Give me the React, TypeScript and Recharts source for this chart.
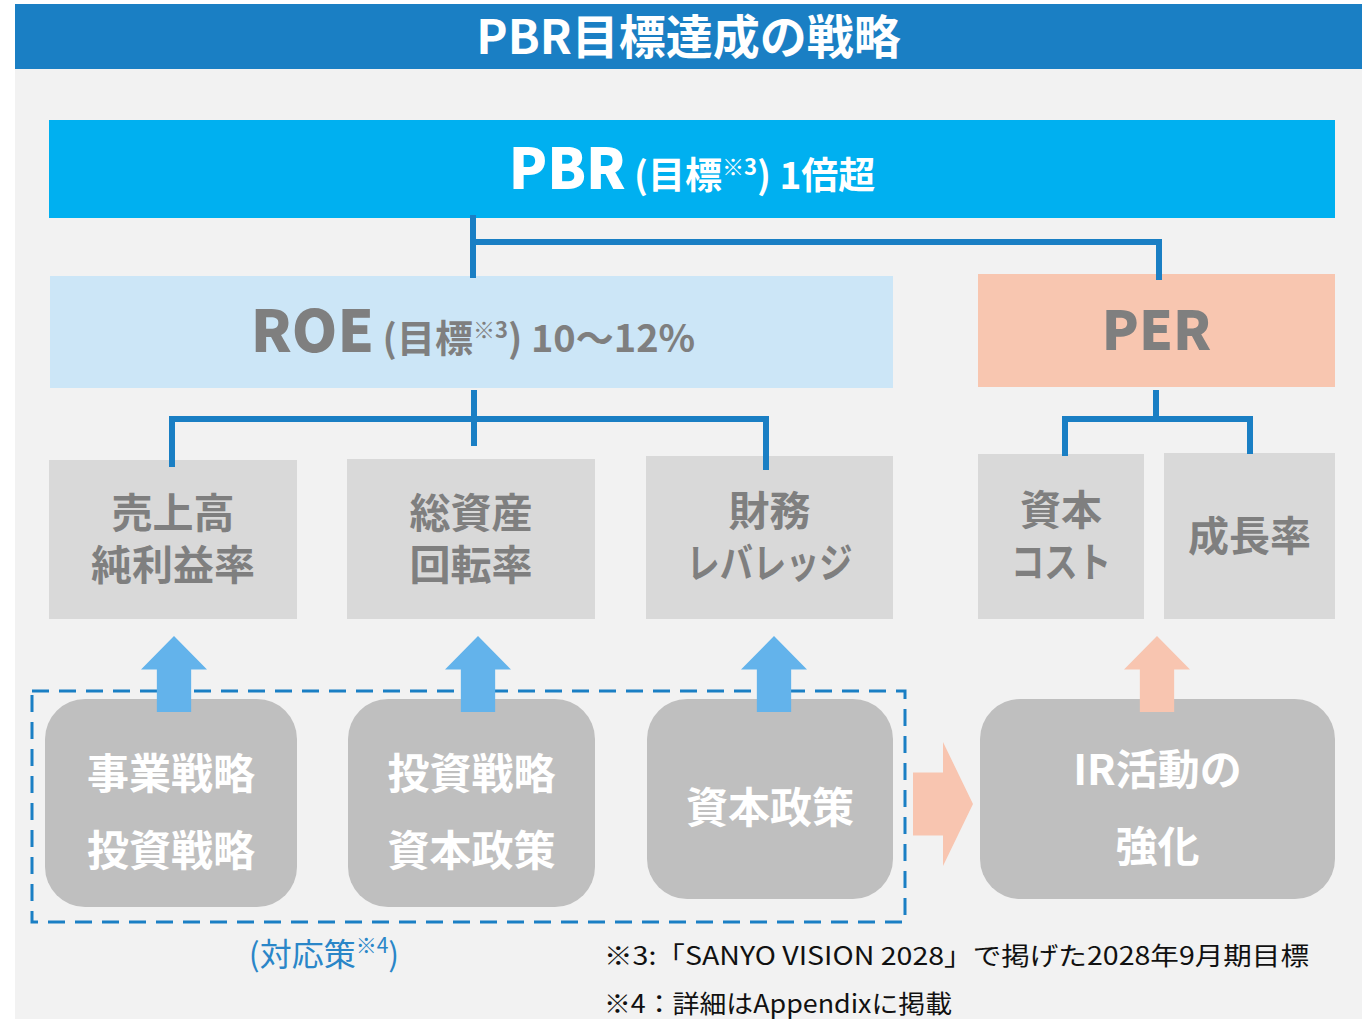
import React from "react";
import { ComposedChart, XAxis, YAxis, ReferenceArea, ReferenceLine } from "recharts";

// texts of the diagram
const title = "PBR目標達成の戦略";
const pbrParts = ["PBR", " (目標", "※3", ") 1倍超"];
const roeParts = ["ROE", " (目標", "※3", ") 10〜12%"];
const perLabel = "PER";
const roeDrivers = [["売上高", "純利益率"], ["総資産", "回転率"], ["財務", "レバレッジ"]];
const perDrivers = [["資本", "コスト"], ["成長率"]];
const measures = [["事業戦略", "投資戦略"], ["投資戦略", "資本政策"], ["資本政策"]];
const irMeasure = ["IR活動の", "強化"];
const captionParts = ["(対応策", "※4", ")"];
const footnotes = [
  "※3:「SANYO VISION 2028」で掲げた2028年9月期目標",
  "※4：詳細はAppendixに掲載",
];

const W = 1368;
const H = 1019;
const FONT = "'Noto Sans CJK JP', 'Noto Sans', sans-serif";
const BLUE = "#1a7fc4";
const GRAY_TXT = "#7f7f7f";

// layout (domain units = pixels of the reference)
const driverBoxes = [
  { x1: 49, x2: 297, y1: 460, y2: 619 },
  { x1: 347, x2: 595, y1: 459, y2: 619 },
  { x1: 646, x2: 893, y1: 456, y2: 619 },
];
const perBoxes = [
  { x1: 978, x2: 1144, y1: 454, y2: 619 },
  { x1: 1164, x2: 1335, y1: 453, y2: 619 },
];
const measureBoxes = [
  { x1: 45, x2: 297, y1: 699, y2: 907 },
  { x1: 348, x2: 595, y1: 699, y2: 907 },
  { x1: 647, x2: 893, y1: 699, y2: 899 },
];
const arrowCenters = [174, 478, 774];
// narrower kana lines in the reference
const driverLens = [[0, 0], [0, 0], [0, 166]];
const perLens = [[0, 100], [0]];
const footnoteLens = [705, 348];

// connector segments [x1, y1, x2, y2]
const connectors = [
  [473, 218, 473, 275],
  [473, 242, 1159, 242],
  [1159, 242, 1159, 277],
  [474, 393, 474, 443],
  [172, 419, 766, 419],
  [172, 419, 172, 464],
  [766, 419, 766, 467],
  [1156, 393, 1156, 419],
  [1065, 419, 1250, 419],
  [1065, 419, 1065, 453],
  [1250, 419, 1250, 451],
];

function Lines(props: any) {
  const { viewBox, lines, size, gap, fill, weight = 700, dy = 0, lens } = props;
  const { x, y, width, height } = viewBox;
  const cx = x + width / 2;
  const cy = y + height / 2 + dy;
  return (
    <g>
      {lines.map((l: string, i: number) => {
        const len = lens && lens[i] ? lens[i] : undefined;
        return (
          <text key={i} x={cx} y={cy + (i - (lines.length - 1) / 2) * gap + size * 0.36}
            textAnchor="middle" fontFamily={FONT} fontWeight={weight} fontSize={size} fill={fill}
            textLength={len} lengthAdjust={len ? "spacingAndGlyphs" : undefined}>
            {l}
          </text>
        );
      })}
    </g>
  );
}

function Rich(props: any) {
  const { parts, big, mid, sup, fill, baseline, cx } = props;
  return (
    <text x={cx} y={baseline} textAnchor="middle" fontFamily={FONT} fontWeight={700} fill={fill}>
      <tspan fontSize={big} fontWeight={900}>{parts[0]}</tspan>
      <tspan fontSize={mid}>{parts[1]}</tspan>
      <tspan fontSize={sup} dy={-14}>{parts[2]}</tspan>
      <tspan fontSize={mid} dy={14}>{parts[3]}</tspan>
    </text>
  );
}

function Footnotes(props: any) {
  const { viewBox } = props;
  return (
    <g>
      {footnotes.map((f, i) => (
        <text key={i} x={viewBox.x} y={viewBox.y + 18 + i * 48} fontFamily={FONT} fontSize={25} fill="#111"
          textLength={footnoteLens[i]} lengthAdjust="spacingAndGlyphs">
          {f}
        </text>
      ))}
    </g>
  );
}

function Caption(props: any) {
  const { viewBox } = props;
  return (
    <text x={viewBox.x + viewBox.width / 2} y={viewBox.y + viewBox.height / 2 + 11} textAnchor="middle"
      fontFamily={FONT} fontSize={32} fill="#2a86c8">
      <tspan>{captionParts[0]}</tspan>
      <tspan fontSize={21} dy={-13}>{captionParts[1]}</tspan>
      <tspan dy={13}>{captionParts[2]}</tspan>
    </text>
  );
}

function UpArrow(props: any) {
  const { x, y, width, height, fill } = props;
  const cx = x + width / 2;
  const hw = width / 2;
  const sw = width * 0.26;
  const hh = height * 0.44;
  const d = `M${cx},${y} L${cx + hw},${y + hh} L${cx + sw},${y + hh} L${cx + sw},${y + height} L${cx - sw},${y + height} L${cx - sw},${y + hh} L${x},${y + hh} Z`;
  return <path d={d} fill={fill} />;
}

function RightArrow(props: any) {
  const { x, y, width, height, fill } = props;
  const cy = y + height / 2;
  const sh = height * 0.255;
  const hx = x + width * 0.5;
  const d = `M${x},${cy - sh} L${hx},${cy - sh} L${hx},${y} L${x + width},${cy} L${hx},${y + height} L${hx},${cy + sh} L${x},${cy + sh} Z`;
  return <path d={d} fill={fill} />;
}

const corners = [{ x: 0, y: 0 }, { x: W, y: H }];

export default function App() {
  return (
    <div style={{ position: "absolute", left: 0, top: 0, width: W, height: H, background: "#fff" }}>
      <ComposedChart width={W} height={H} data={corners} margin={{ top: 0, right: 0, bottom: 0, left: 0 }}>
        <XAxis type="number" dataKey="x" domain={[0, W]} hide allowDataOverflow />
        <YAxis type="number" dataKey="y" domain={[0, H]} reversed hide allowDataOverflow />

        {/* panel and header */}
        <ReferenceArea x1={15} x2={1362} y1={69} y2={H} fill="#f2f2f2" fillOpacity={1} stroke="none" />
        <ReferenceArea x1={15} x2={1362} y1={4} y2={69} fill={BLUE} fillOpacity={1} stroke="none"
          label={<Lines lines={[title]} size={47} gap={0} fill="#fff" dy={1} />} />

        {/* connectors */}
        {connectors.map((c, i) => (
          <ReferenceLine key={"c" + i} segment={[{ x: c[0], y: c[1] }, { x: c[2], y: c[3] }]}
            stroke={BLUE} strokeWidth={6} strokeLinecap="square" />
        ))}

        {/* top boxes */}
        <ReferenceArea x1={49} x2={1335} y1={120} y2={218} fill="#00b0f0" fillOpacity={1} stroke="none"
          label={<Rich parts={pbrParts} big={56} mid={37} sup={22} fill="#fff" baseline={189} cx={692} />} />
        <ReferenceArea x1={50} x2={893} y1={276} y2={388} fill="#cce6f7" fillOpacity={1} stroke="none"
          label={<Rich parts={roeParts} big={58} mid={38} sup={22} fill={GRAY_TXT} baseline={352} cx={473} />} />
        <ReferenceArea x1={978} x2={1335} y1={274} y2={387} fill="#f8c6b0" fillOpacity={1} stroke="none"
          label={<Lines lines={[perLabel]} size={54} gap={0} fill={GRAY_TXT} weight={900} />} />

        {/* drivers */}
        {driverBoxes.map((b, i) => (
          <ReferenceArea key={"d" + i} {...b} fill="#d9d9d9" fillOpacity={1} stroke="none"
            label={<Lines lines={roeDrivers[i]} size={41} gap={52} fill={GRAY_TXT} lens={driverLens[i]} />} />
        ))}
        {perBoxes.map((b, i) => (
          <ReferenceArea key={"p" + i} {...b} fill="#d9d9d9" fillOpacity={1} stroke="none"
            label={<Lines lines={perDrivers[i]} size={41} gap={52} fill={GRAY_TXT} lens={perLens[i]} />} />
        ))}

        {/* measures */}
        <ReferenceArea x1={32} x2={905} y1={691} y2={922} fill="none" stroke={BLUE} strokeWidth={3}
          strokeDasharray="17 10" />
        {measureBoxes.map((b, i) => (
          <ReferenceArea key={"m" + i} {...b} fill="#bfbfbf" fillOpacity={1} stroke="none" radius={40}
            label={<Lines lines={measures[i]} size={42} gap={77} fill="#fff" dy={9} />} />
        ))}
        <ReferenceArea x1={980} x2={1335} y1={699} y2={899} fill="#bfbfbf" fillOpacity={1} stroke="none" radius={40}
          label={<Lines lines={irMeasure} size={42} gap={77} fill="#fff" dy={9} />} />

        {/* arrows */}
        {arrowCenters.map((c, i) => (
          <ReferenceArea key={"a" + i} x1={c - 33} x2={c + 33} y1={636} y2={712} fill="#63b3eb"
            shape={(p: any) => <UpArrow {...p} fill="#63b3eb" />} />
        ))}
        <ReferenceArea x1={1124} x2={1190} y1={636} y2={712} fill="#f8c5b0"
          shape={(p: any) => <UpArrow {...p} fill="#f8c5b0" />} />
        <ReferenceArea x1={913} x2={973} y1={742} y2={866} fill="#f8c5b0"
          shape={(p: any) => <RightArrow {...p} fill="#f8c5b0" />} />

        {/* captions */}
        <ReferenceArea x1={240} x2={408} y1={935} y2={975} fill="none" stroke="none" label={<Caption />} />
        <ReferenceArea x1={604} x2={1320} y1={947} y2={1015} fill="none" stroke="none" label={<Footnotes />} />
      </ComposedChart>
    </div>
  );
}
